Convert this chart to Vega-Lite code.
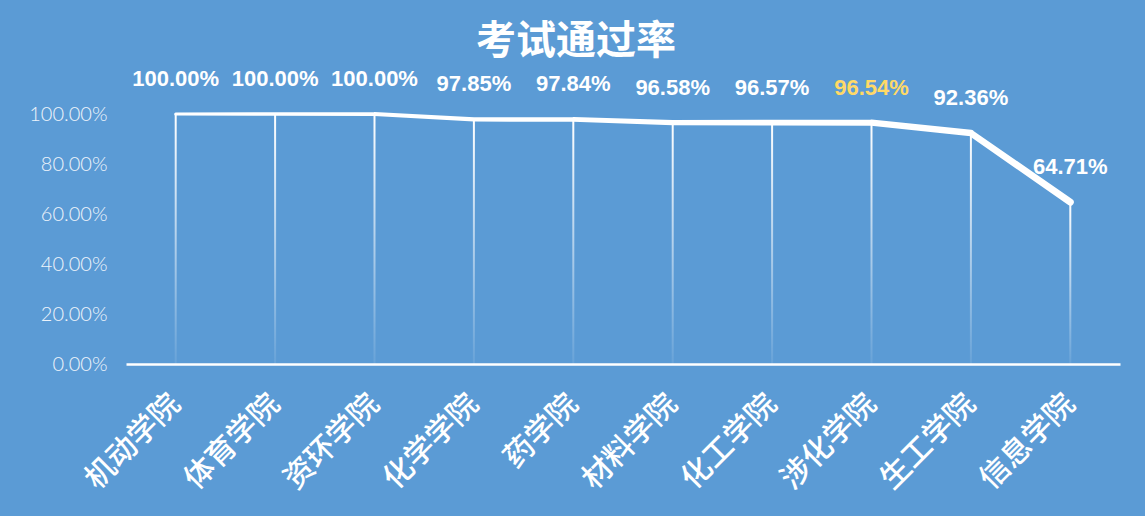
{
  "$schema": "https://vega.github.io/schema/vega-lite/v6.json",
  "width": 994,
  "height": 250,
  "autosize": {"type": "none"},
  "padding": {"left": 126, "top": 114, "right": 25, "bottom": 152},
  "background": "#5B9BD5",
  "config": {"view": {"stroke": null}},
  "title": {
    "text": "考试通过率",
    "font": "Noto Sans CJK SC",
    "fontSize": 40,
    "fontWeight": "bold",
    "color": "#ffffff",
    "anchor": "middle",
    "dx": -47,
    "offset": 6
  },
  "data": {
    "values": [
      {"college": "机动学院", "rate": 1.0},
      {"college": "体育学院", "rate": 1.0},
      {"college": "资环学院", "rate": 1.0},
      {"college": "化学学院", "rate": 0.9785},
      {"college": "药学院", "rate": 0.9784},
      {"college": "材料学院", "rate": 0.9658},
      {"college": "化工学院", "rate": 0.9657},
      {"college": "涉化学院", "rate": 0.9654},
      {"college": "生工学院", "rate": 0.9236},
      {"college": "信息学院", "rate": 0.6471}
    ]
  },
  "encoding": {
    "x": {
      "field": "college",
      "type": "nominal",
      "sort": null,
      "scale": {"type": "band", "paddingInner": 0, "paddingOuter": 0},
      "axis": {
        "title": null,
        "domainColor": "#ffffff",
        "domainWidth": 2.5,
        "ticks": false,
        "labelAngle": -45,
        "labelAlign": "right",
        "labelBaseline": "middle",
        "labelFont": "Noto Sans CJK SC",
        "labelFontWeight": 500,
        "labelFontSize": 30,
        "labelColor": "#ffffff",
        "labelPadding": 35
      }
    },
    "y": {
      "field": "rate",
      "type": "quantitative",
      "scale": {"domain": [0, 1]},
      "axis": {
        "title": null,
        "domain": false,
        "ticks": false,
        "grid": false,
        "tickCount": 6,
        "format": ".2%",
        "labelFont": "Lato",
        "labelFontWeight": 300,
        "labelFontSize": 20,
        "labelColor": "#EEF4FB",
        "labelPadding": 19
      }
    }
  },
  "layer": [
    {
      "mark": {
        "type": "bar",
        "width": 2,
        "color": {
          "gradient": "linear",
          "x1": 0, "y1": 0, "x2": 0, "y2": 1,
          "stops": [
            {"offset": 0, "color": "#ffffff"},
            {"offset": 1, "color": "rgba(255,255,255,0.08)"}
          ]
        }
      },
      "encoding": {"y2": {"datum": 0}}
    },
    {
      "mark": {"type": "trail", "color": "#ffffff"},
      "encoding": {
        "size": {
          "field": "college",
          "type": "ordinal",
          "sort": null,
          "scale": {"range": [3, 7], "padding": 0},
          "legend": null
        }
      }
    },
    {
      "mark": {
        "type": "text",
        "dy": -35,
        "font": "Liberation Sans",
        "fontWeight": "bold",
        "fontSize": 22,
        "baseline": "middle"
      },
      "encoding": {
        "text": {"field": "rate", "type": "quantitative", "format": ".2%"},
        "color": {
          "condition": {"test": "datum.college === '涉化学院'", "value": "#FFD966"},
          "value": "#ffffff"
        }
      }
    }
  ]
}
